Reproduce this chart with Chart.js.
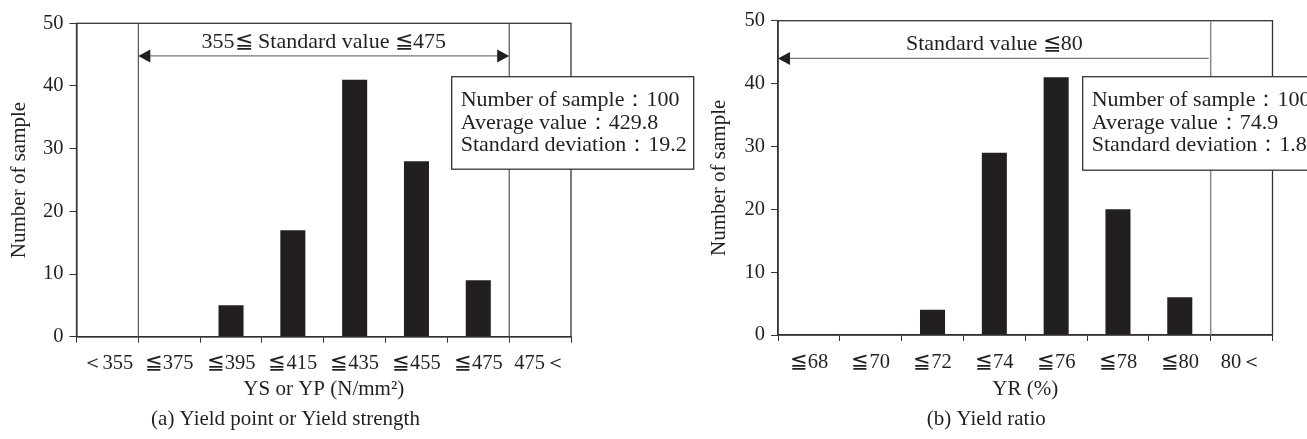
<!DOCTYPE html>
<html>
<head>
<meta charset="utf-8">
<script src="https://cdn.jsdelivr.net/npm/chart.js@4/dist/chart.umd.min.js"></script>
<style>
  body { margin: 0; background: #fff; width: 1307px; height: 439px; overflow: hidden; }
  .pane { position: absolute; top: 0; height: 439px; }
  #p1 { left: 0; width: 700px; }
  #p2 { left: 700px; width: 607px; }
</style>
</head>
<body>
<div class="pane" id="p1"><canvas id="ysChart" width="700" height="439"></canvas></div>
<div class="pane" id="p2"><canvas id="yrChart" width="607" height="439"></canvas></div>
<script>
// (a) yield point / yield strength
const ysLabels = ['＜355', '≦375', '≦395', '≦415', '≦435', '≦455', '≦475', '475＜'];
const ysCounts = [0, 0, 5, 17, 41, 28, 9, 0];
const ysStats = ['Number of sample：100', 'Average value：429.8', 'Standard deviation：19.2'];

// (b) yield ratio
const yrLabels = ['≦68', '≦70', '≦72', '≦74', '≦76', '≦78', '≦80', '80＜'];
const yrCounts = [0, 0, 4, 29, 41, 20, 6, 0];
const yrStats = ['Number of sample：100', 'Average value：74.9', 'Standard deviation：1.8'];

const countTicks = [0, 10, 20, 30, 40, 50];

const ink = '#231f20';
const axisCol = '#333';
const serif = "'Liberation Serif', 'Times New Roman', serif";
const tickFont = { family: serif, size: 20.5 };
const titleFont = { family: serif, size: 21 };

function line(ctx, x1, y1, x2, y2) {
  ctx.beginPath(); ctx.moveTo(x1, y1); ctx.lineTo(x2, y2); ctx.stroke();
}
function head(ctx, tipX, y, dir) {
  ctx.beginPath();
  ctx.moveTo(tipX, y);
  ctx.lineTo(tipX - dir * 12, y - 6.5);
  ctx.lineTo(tipX - dir * 12, y + 6.5);
  ctx.closePath(); ctx.fill();
}

// frame, standard-value limits, arrow and stats box
const histNotes = {
  id: 'histNotes',
  afterDatasetsDraw(chart, args, o) {
    const { ctx, chartArea: a, scales: { x, y } } = chart;
    ctx.save();
    ctx.strokeStyle = axisCol; ctx.lineWidth = 1.3;
    ctx.strokeRect(a.left, a.top, a.right - a.left, a.bottom - a.top);

    ctx.strokeStyle = o.limitColor; ctx.lineWidth = o.limitWidth;
    o.limits.forEach(v => {
      const px = x.getPixelForValue(v);
      line(ctx, px, a.top, px, a.bottom);
    });

    const ay = y.getPixelForValue(o.arrowAt);
    const x0 = x.getPixelForValue(o.arrowFrom);
    const x1 = x.getPixelForValue(o.arrowTo);
    ctx.strokeStyle = '#777'; ctx.lineWidth = 1.3;
    line(ctx, x0 + 2, ay, x1 - 2, ay);
    ctx.fillStyle = ink;
    if (o.headStart) head(ctx, x0, ay, -1);
    if (o.headEnd) head(ctx, x1, ay, 1);
    ctx.font = `22px ${serif}`;
    ctx.textAlign = 'center'; ctx.textBaseline = 'middle';
    ctx.fillText(o.arrowText, (x0 + x1) / 2, ay - 14);

    const b = o.box;
    const bx = a.left + b.dx, by = a.top + b.dy;
    ctx.fillStyle = '#fff';
    ctx.fillRect(bx, by, b.w, b.h);
    ctx.strokeStyle = axisCol; ctx.lineWidth = 1.3;
    ctx.strokeRect(bx, by, b.w, b.h);
    ctx.fillStyle = ink;
    ctx.font = `22px ${serif}`;
    ctx.textAlign = 'left';
    b.lines.forEach((t, i) => ctx.fillText(t, bx + 9, by + 23.5 + i * 22.7));
    ctx.restore();
  }
};

function makeHist(id, labels, counts, xTitle, caption, notes) {
  return new Chart(document.getElementById(id), {
    type: 'bar',
    data: {
      labels: labels,
      datasets: [{ data: counts, backgroundColor: ink, barPercentage: 0.405, categoryPercentage: 1 }]
    },
    options: {
      responsive: false,
      animation: false,
      layout: { padding: notes.pad },
      plugins: {
        legend: { display: false },
        tooltip: { enabled: false },
        title: {
          display: true, position: 'bottom', text: caption, color: ink,
          font: { family: serif, size: 21, weight: 'normal' },
          padding: { top: 0, bottom: 7 }
        },
        histNotes: notes
      },
      scales: {
        x: {
          grid: { offset: true, drawOnChartArea: false, tickLength: 6, color: axisCol },
          border: { color: axisCol, width: 1.5 },
          ticks: { font: tickFont, color: ink, padding: 9, maxRotation: 0, autoSkip: false },
          title: { display: true, text: xTitle, font: titleFont, color: ink, padding: { top: 0, bottom: 5 } },
          afterFit: s => { s.height = notes.xh; }
        },
        y: {
          min: 0, max: 50,
          grid: { drawOnChartArea: false, tickLength: 7, color: axisCol },
          border: { color: axisCol, width: 1.5 },
          ticks: { font: tickFont, color: ink, padding: 6 },
          afterBuildTicks: s => { s.ticks = countTicks.map(v => ({ value: v })); },
          title: { display: true, text: 'Number of sample', font: titleFont, color: ink, padding: { top: 7, bottom: 0 } },
          afterFit: s => { s.width = notes.yw; }
        }
      }
    },
    plugins: [histNotes]
  });
}

makeHist('ysChart', ysLabels, ysCounts, 'YS or YP (N/mm²)', '(a) Yield point or Yield strength', {
  pad: { left: 0, top: 23.3, right: 129, bottom: 0 },
  xh: 70.1, yw: 76.5,
  limits: [0.5, 6.5], limitColor: axisCol, limitWidth: 1,
  arrowAt: 44.8, arrowFrom: 0.5, arrowTo: 6.5, headStart: true, headEnd: true,
  arrowText: '355≦ Standard value ≦475',
  box: { dx: 375.2, dy: 53.4, w: 242, h: 92.5, lines: ysStats }
});

makeHist('yrChart', yrLabels, yrCounts, 'YR (%)', '(b) Yield ratio', {
  pad: { left: 0, top: 20.7, right: 34.5, bottom: 0 },
  xh: 71.8, yw: 78,
  limits: [6.5], limitColor: '#888', limitWidth: 1.5,
  arrowAt: 44, arrowFrom: -0.5, arrowTo: 6.5, headStart: true, headEnd: false,
  arrowText: 'Standard value ≦80',
  box: { dx: 304.7, dy: 56, w: 260, h: 93.5, lines: yrStats }
});
</script>
</body>
</html>
